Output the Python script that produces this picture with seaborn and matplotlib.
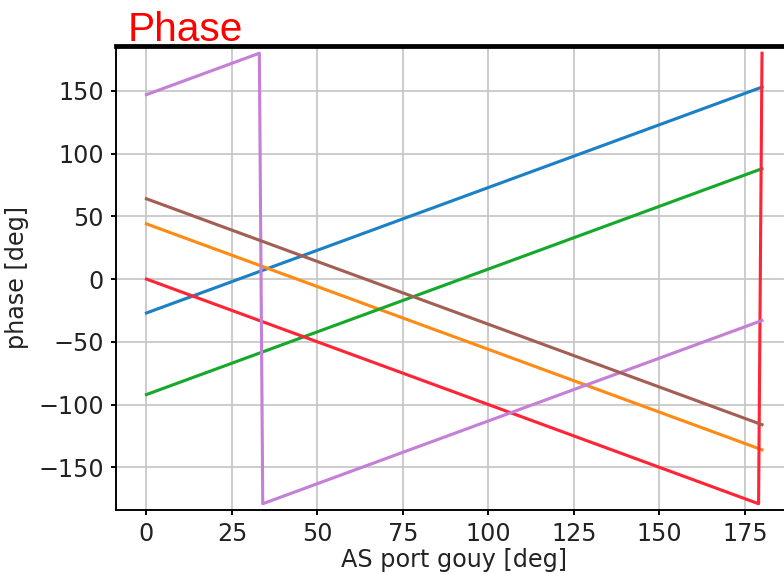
import matplotlib
matplotlib.use("Agg")
import matplotlib.pyplot as plt
import seaborn as sns
import pandas as pd

# Phase of each channel versus AS port Gouy phase; wrapped to [-180, 180]
blue_x = [0, 180]
blue_y = [-27, 153]

orange_x = [0, 180]
orange_y = [44, -136]

green_x = [0, 180]
green_y = [-92, 88]

red_x = [0, 179, 180]
red_y = [0, -179, 180]

purple_x = [0, 33, 34, 180]
purple_y = [147, 180, -179, -33]

brown_x = [0, 180]
brown_y = [64, -116]

series = [
    ("blue", blue_x, blue_y, "#1b80c4"),
    ("orange", orange_x, orange_y, "#ff8a14"),
    ("green", green_x, green_y, "#16a82a"),
    ("red", red_x, red_y, "#ff2436"),
    ("purple", purple_x, purple_y, "#c47fd6"),
    ("brown", brown_x, brown_y, "#a45f55"),
]

x_ticks = [0, 25, 50, 75, 100, 125, 150, 175]
y_ticks = [-150, -100, -50, 0, 50, 100, 150]

dpi = 172
fig = plt.figure(figsize=(784 / dpi, 574 / dpi), dpi=dpi)
ax = fig.add_axes([0.1476, 0.1115, 0.8636, 0.8089])

for name, xs, ys, color in series:
    df = pd.DataFrame({"x": xs, "y": ys})
    sns.lineplot(data=df, x="x", y="y", ax=ax, color=color, linewidth=1.3,
                 estimator=None, sort=False)

ax.set_xlim(-9, 189)
ax.set_ylim(-184, 186)
ax.set_xticks(x_ticks)
ax.set_yticks(y_ticks)
ax.grid(True, color="#c4c4c4", linewidth=0.7)
ax.set_axisbelow(True)
ax.spines["top"].set_linewidth(2.0)
ax.spines["right"].set_visible(False)
ax.set_xlabel("AS port gouy [deg]", fontsize=10, color="#222222", labelpad=1.0)
ax.set_ylabel("phase [deg]", fontsize=10, color="#222222", labelpad=4)
ax.tick_params(labelsize=10, labelcolor="#222222", length=2.2, pad=2.8)

fig.text(128 / 784, 1 - 41 / 574, "Phase", color="#ff0000",
         fontsize=17, family="Liberation Sans", va="baseline", ha="left")

fig.savefig("out.png", dpi=dpi)
